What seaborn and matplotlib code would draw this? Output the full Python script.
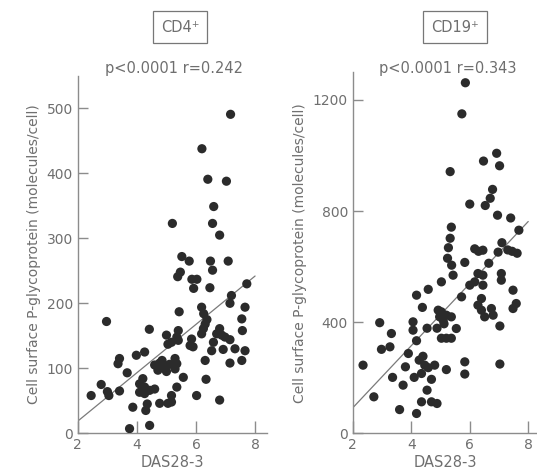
import matplotlib
matplotlib.use("Agg")
import matplotlib.pyplot as plt
import seaborn as sns
import pandas as pd

# === Settings ===
sns.set_style("ticks")
plt.rcParams['font.family'] = ['DejaVu Sans']
text_col = "#6f6f6f"
axis_col = "#8c8c8c"
dot_col = "#2b2b2b"

# === Data ===
cd4_das = [7.17, 6.20, 6.40, 7.03, 6.60, 5.20, 6.56, 6.80, 5.52, 5.77, 6.49, 7.09,
           6.56, 5.47, 5.38, 5.86, 6.03, 5.92, 6.47, 7.72, 7.20, 7.15, 7.66, 6.19,
           5.43, 6.26, 6.37, 6.31, 2.97, 4.42, 7.55, 7.57, 5.40, 5.35, 5.40, 6.80,
           6.70, 6.87, 6.98, 7.15, 6.59, 6.19, 6.25, 5.85, 5.80, 5.90, 5.17, 5.00,
           5.05, 6.92, 7.32, 7.66, 6.53, 7.55, 6.31, 7.15, 5.29, 5.29, 5.35, 5.57,
           6.34, 5.35, 5.17, 5.17, 6.02, 6.80, 4.26, 3.98, 3.41, 3.36, 3.67, 4.60,
           4.77, 4.94, 4.71, 5.10, 4.85, 5.00, 4.20, 4.09, 4.26, 4.43, 4.60, 4.09,
           4.26, 2.79, 3.00, 3.05, 3.41, 2.45, 3.86, 4.30, 4.35, 4.77, 5.05, 3.75,
           4.43]
cd4_pgp = [491, 438, 391, 388, 349, 323, 323, 305, 272, 265, 265, 265,
           251, 248, 241, 237, 237, 223, 224, 230, 212, 200, 194, 194,
           187, 184, 175, 168, 172, 160, 176, 158, 158, 148, 143, 161,
           153, 151, 148, 144, 140, 153, 161, 145, 135, 133, 140, 151,
           137, 129, 130, 127, 127, 112, 112, 108, 115, 99, 107, 86,
           83, 71, 58, 48, 58, 51, 125, 120, 115, 107, 93, 105,
           108, 102, 97, 106, 112, 95, 84, 76, 71, 66, 68, 63,
           61, 75, 64, 58, 65, 58, 40, 35, 45, 46, 46, 7,
           12]

cd19_das = [5.85, 5.73, 5.33, 6.47, 6.92, 7.02, 6.78, 6.70, 6.53, 6.00, 6.95, 7.40,
            7.68, 5.37, 5.33, 5.27, 5.24, 5.38, 7.10, 6.17, 6.30, 6.45, 6.97, 7.30,
            7.45, 7.62, 5.83, 6.65, 5.43, 5.03, 6.28, 6.45, 6.00, 6.17, 6.45, 7.08,
            7.08, 7.48, 5.72, 6.40, 6.28, 6.40, 6.51, 6.74, 6.80, 7.03, 7.59, 7.48,
            5.03, 5.20, 5.37, 5.09, 5.54, 5.03, 5.20, 5.37, 5.83, 5.83, 5.20, 7.03,
            4.58, 4.18, 4.38, 4.92, 4.97, 2.92, 4.06, 4.06, 4.54, 4.88, 5.12, 3.32,
            3.27, 2.98, 4.18, 2.35, 3.90, 4.40, 4.27, 4.46, 4.80, 4.58, 4.35, 3.80,
            3.36, 3.72, 4.10, 4.69, 4.54, 2.72, 4.35, 4.69, 4.88, 3.60, 4.18]
cd19_pgp = [1262, 1150, 942, 980, 1008, 963, 878, 846, 820, 825, 785, 775,
            731, 742, 702, 668, 630, 605, 686, 664, 655, 659, 652, 660,
            655, 648, 615, 612, 569, 545, 575, 569, 533, 545, 533, 575,
            551, 515, 491, 485, 461, 443, 419, 449, 425, 386, 467, 449,
            437, 425, 419, 407, 377, 342, 342, 342, 257, 213, 229, 249,
            518, 497, 453, 443, 419, 398, 401, 371, 378, 378, 394, 359,
            311, 302, 333, 245, 287, 277, 263, 245, 245, 236, 215, 239,
            201, 173, 201, 194, 155, 131, 113, 113, 107, 85, 71]

panel_names = ["CD4⁺", "CD19⁺"]
stat_labels = ["p<0.0001 r=0.242", "p<0.0001 r=0.343"]
x_ticks = [2, 4, 6, 8]
cd4_yticks = [0, 100, 200, 300, 400, 500]
cd19_yticks = [0, 400, 800, 1200]

ylabel = "Cell surface P-glycoprotein (molecules/cell)"
xlabel = "DAS28-3"

df4 = pd.DataFrame({"das": cd4_das, "pgp": cd4_pgp})
df19 = pd.DataFrame({"das": cd19_das, "pgp": cd19_pgp})

# === Figure ===
fig = plt.figure(figsize=(5.37, 4.75), dpi=100)
ax1 = fig.add_axes([0.145, 0.088, 0.352, 0.752])
ax2 = fig.add_axes([0.657, 0.088, 0.343, 0.760])


def draw_panel(ax, df, ylim, yticks, xlim_right):
    ax.set_xlim(2, 8)
    sns.regplot(data=df, x="das", y="pgp", ax=ax, scatter=False, ci=None,
                truncate=False, line_kws=dict(color="#7a7a7a", lw=0.9))
    sns.scatterplot(data=df, x="das", y="pgp", ax=ax, color=dot_col, s=44,
                    edgecolor="none", zorder=3)
    ax.set_xlim(2, xlim_right)
    ax.set_ylim(*ylim)
    ax.set_xticks(x_ticks)
    ax.set_yticks(yticks)
    ax.tick_params(direction="in", colors=axis_col, labelcolor=text_col,
                   labelsize=10)
    ax.tick_params(axis="x", length=9, width=1)
    ax.tick_params(axis="y", length=7, width=1)
    for side in ["top", "right"]:
        ax.spines[side].set_visible(False)
    for side in ["left", "bottom"]:
        ax.spines[side].set_color(axis_col)
        ax.spines[side].set_linewidth(1)
    ax.set_xlabel(xlabel, color=text_col, fontsize=10.5, labelpad=2)
    ax.set_ylabel(ylabel, color=text_col, fontsize=10, labelpad=4)


draw_panel(ax1, df4, (0, 550), cd4_yticks, 8.4)
draw_panel(ax2, df19, (0, 1300), cd19_yticks, 8.3)

# stats and boxed panel names
fig.text(174 / 537, 1 - 68 / 475, stat_labels[0], ha="center", va="center",
         color=text_col, fontsize=10.5)
fig.text(448 / 537, 1 - 68 / 475, stat_labels[1], ha="center", va="center",
         color=text_col, fontsize=10.5)
box = dict(boxstyle="square,pad=0.55", fc="white", ec="#777777", lw=0.9)
fig.text(180 / 537, 1 - 27 / 475, panel_names[0], ha="center", va="center",
         color=text_col, fontsize=10.5, bbox=box)
fig.text(455 / 537, 1 - 27 / 475, panel_names[1], ha="center", va="center",
         color=text_col, fontsize=10.5, bbox=box)

fig.savefig("out.png", dpi=100)
